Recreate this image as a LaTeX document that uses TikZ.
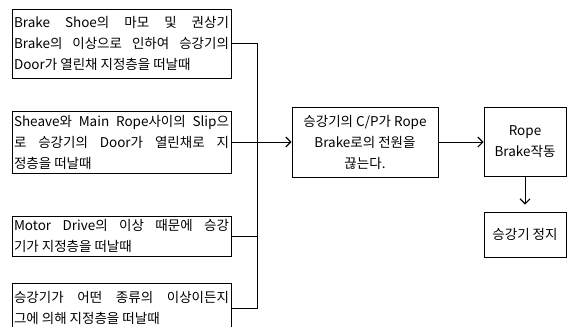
\documentclass[tikz,border=0pt]{standalone}
\usepackage{fontspec}
\setmainfont{Noto Sans CJK KR}
\usetikzlibrary{arrows.meta}
\newcommand{\J}[1]{\makebox[215pt][s]{#1}}
\begin{document}
\begin{tikzpicture}[x=1pt,y=-1pt,
  box/.style={draw=black, line width=0.9pt, rectangle, inner sep=0pt, align=left, font=\fontsize{13.5}{21}\selectfont},
  cbox/.style={box, align=center},
  link/.style={line width=0.9pt},
  arr/.style={link, -{Straight Barb[length=5pt,width=10pt,line width=1.1pt]}}]
\useasboundingbox (0,0) rectangle (571,327);
\node[box, minimum width=219pt, minimum height=69pt] (b1) at (121.5,43.5)
  {\J{Brake Shoe의 마모 및 권상기}\\\J{Brake의 이상으로 인하여 승강기의}\\Door가 열린채 지정층을 떠날때};
\node[box, minimum width=219pt, minimum height=62pt] (b2) at (121.5,142)
  {\J{Sheave와 Main Rope사이의 Slip으}\\\J{로 승강기의 Door가 열린채로 지}\\정층을 떠날때};
\node[box, minimum width=219pt, minimum height=40pt] (b3) at (121.5,236)
  {\J{Motor Drive의 이상 때문에 승강}\\기가 지정층을 떠날때};
\node[box, minimum width=219pt, minimum height=50pt] (b4) at (121.5,308)
  {\J{승강기가 어떤 종류의 이상이든지}\\그에 의해 지정층을 떠날때};
\node[cbox, minimum width=146pt, minimum height=70pt] (cb) at (365,142)
  {승강기의 C/P가 Rope\\Brake로의 전원을\\끊는다.};
\node[cbox, minimum width=82pt, minimum height=69pt] (rb) at (525,142)
  {Rope\\Brake작동};
\node[cbox, minimum width=82pt, minimum height=45pt] (sb) at (525,234.5)
  {승강기 정지};
\coordinate (jx) at (257,0);
\draw[link] (b1.east) -- (b1.east -| jx) -- (b4.east -| jx) -- (b4.east);
\draw[link] (b3.east) -- (b3.east -| jx);
\draw[arr] (b2.east) -- (cb.west);
\draw[arr] (cb.east) -- (rb.west);
\draw[arr, shorten >=7pt] (rb.south) -- (sb.north);
\end{tikzpicture}
\end{document}
